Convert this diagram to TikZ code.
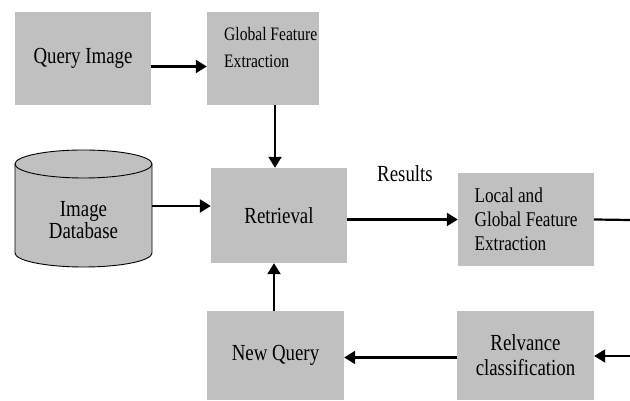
\documentclass[tikz,border=0pt]{standalone}
\usepackage{fontspec}
\setmainfont{Liberation Serif}[FakeStretch=0.82]
\usetikzlibrary{arrows.meta}
\definecolor{boxgray}{HTML}{C0C0C0}
\begin{document}
\begin{tikzpicture}[x=1pt,y=1pt,
  graybox/.style={fill=boxgray, inner sep=0pt, font=\fontsize{23}{25}\selectfont, align=center},
  arr/.style={line width=2.2pt, -{Triangle[length=11pt,width=13pt]}},
  plainline/.style={line width=2.2pt}]
\useasboundingbox (0,0) rectangle (630,401);
% boxes
\node[graybox, minimum width=136pt, minimum height=93pt] (qi) at (83,342.5) {Query Image};
\node[graybox, minimum width=112pt, minimum height=93pt] (gfe) at (263,342.5) {};
\node[anchor=base west, align=left, inner sep=0pt, font=\fontsize{19}{27}\selectfont] (gfetext) at (224,333) {Global Feature\\Extraction};
\node[graybox, minimum width=136pt, minimum height=95pt] (ret) at (279,185.5) {Retrieval};
\node[graybox, minimum width=136pt, minimum height=93pt, align=left, font=\fontsize{21}{24}\selectfont] (lgfe) at (526,181.5) {Local and\\Global Feature\\Extraction};
\node[graybox, minimum width=137pt, minimum height=89pt, font=\fontsize{23}{25}\selectfont] (rc) at (525.5,45.5) {Relvance\\classification};
\node[graybox, minimum width=137pt, minimum height=89pt] (nq) at (275.5,45.5) {New Query};
% cylinder database
\filldraw[fill=boxgray, draw=black, line width=0.9pt]
  (15,237) -- (15,148) arc[start angle=180, end angle=360, x radius=68.5pt, y radius=14pt]
  -- (152,237) arc[start angle=0, end angle=180, x radius=68.5pt, y radius=14pt] -- cycle;
\draw[line width=0.9pt] (15,237) arc[start angle=180, end angle=360, x radius=68.5pt, y radius=14pt];
\node[inner sep=0pt, align=center, font=\fontsize{23}{21.5}\selectfont] (db) at (83.5,181) {Image\\Database};
% label
\node[anchor=base, inner sep=0pt, font=\fontsize{23}{22}\selectfont] (res) at (405,219) {Results};
% free ends
\coordinate (rin) at (630,45);
\coordinate (rout) at (630,181);
\coordinate (dbe) at (152,195);
% connectors
\draw[arr] ([yshift=-8pt]qi.east) -- ([yshift=-8pt]gfe.west);
\draw[arr] ([xshift=12pt]gfe.south) -- ([xshift=12pt]gfe.south |- ret.north);
\draw[arr] (dbe) -- (dbe -| ret.west);
\draw[arr] ([yshift=-4pt]ret.east) -- ([yshift=-4pt]ret.east -| lgfe.west);
\draw[plainline] (lgfe.east) -- (rout);
\draw[arr] (rin) -- (rin -| rc.east);
\draw[arr] ([yshift=-2pt]rc.west) -- ([yshift=-2pt]nq.east);
\draw[arr] ([xshift=-1.5pt]nq.north) -- ([xshift=-1.5pt]nq.north |- ret.south);
\end{tikzpicture}
\end{document}
